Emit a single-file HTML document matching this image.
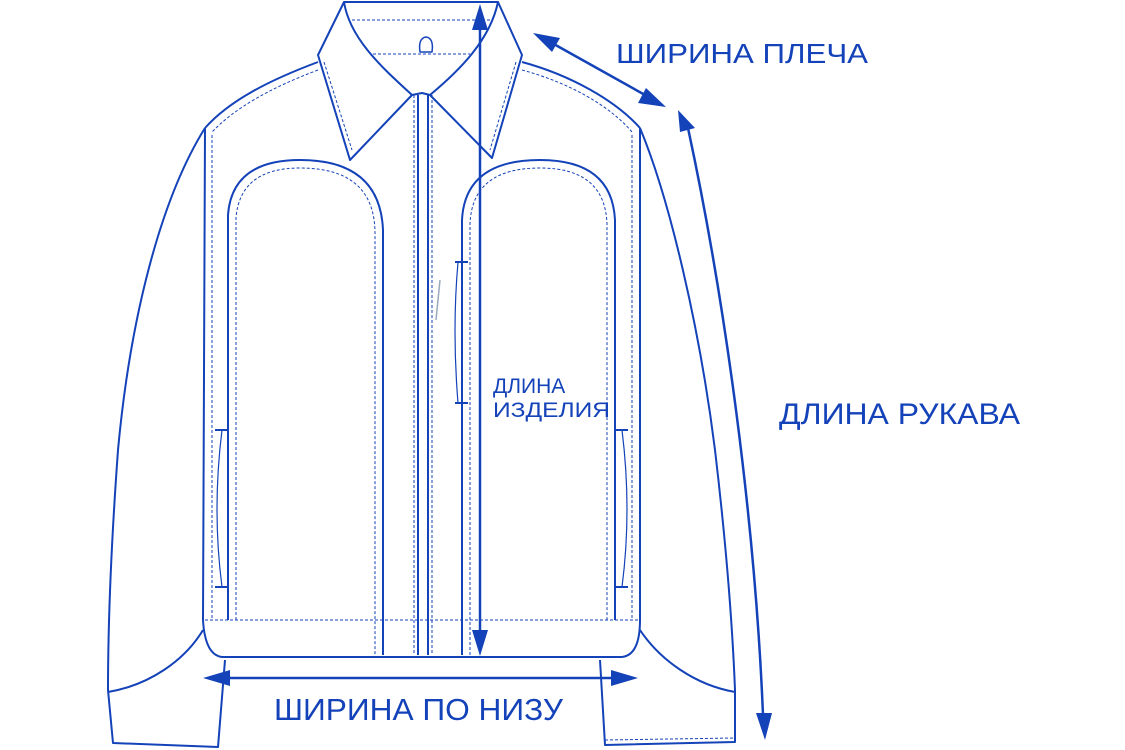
<!DOCTYPE html>
<html><head><meta charset="utf-8"><style>
html,body{margin:0;padding:0;background:#fff;}
svg{display:block;}
text{font-family:"Liberation Sans",sans-serif;fill:#1442b8;}
</style></head><body>
<svg width="1125" height="750" viewBox="0 0 1125 750" xmlns="http://www.w3.org/2000/svg">
<g fill="none" stroke="#1442b8" stroke-width="2" stroke-linejoin="round">
<!-- sleeves -->
<path d="M205,128 C160,200 130,320 118,450 C110,560 108,640 108,690 L113,743 L218,747 L225,660"/>
<path d="M640,128 C670,200 700,330 715,450 C728,560 733,640 735,690 L735,742 L605,745 L600,660"/>
<path d="M605,740 L735,738" stroke-width="1" stroke-dasharray="3 2"/>
<!-- body sides/hem -->
<path d="M205,128 L203,620 Q205,655 222,657 L622,657 Q640,655 640,620 L640,128"/>
<!-- sleeve seam curves -->
<path d="M203,630 C185,660 150,685 108,692"/>
<path d="M640,630 C660,660 695,685 735,692"/>
<!-- shoulders -->
<path d="M318,62 C270,80 230,100 205,128"/>
<path d="M522,62 C570,75 615,100 640,128"/>
<path d="M318,70 C270,88 235,108 212,132" stroke-width="1" stroke-dasharray="3 2"/>
<path d="M522,70 C570,83 610,106 632,132" stroke-width="1" stroke-dasharray="3 2"/>
<!-- collar -->
<path d="M344,2 L498,2 L522,55 L492,158 L430,95 L422,93 L412,95 L350,160 L318,55 Z"/>
<path d="M344,2 C350,40 385,70 412,95 M498,2 C490,40 460,70 430,95"/>
<path d="M352,20 L492,20 M373,54 L470,54" stroke-width="1" stroke-dasharray="3 2"/>
<path d="M420,52 Q418,38 426,37 Q434,38 432,52 Z" stroke-width="1.5"/>
<path d="M324,62 L352,150 M516,62 L490,150" stroke-width="1" stroke-dasharray="3 2"/>
<!-- zipper -->
<path d="M418,95 L418,655 M428,95 L428,655"/>
<path d="M414,95 L414,655 M432,95 L432,655" stroke-width="1" stroke-dasharray="3 2"/>
<!-- panels -->
<path d="M228,620 L228,215 Q232,160 300,160 Q380,160 383,230 L383,655"/>
<path d="M236,620 L236,218 Q240,168 300,168 Q374,168 375,232 L375,655" stroke-width="1" stroke-dasharray="3 2"/>
<path d="M462,655 L462,220 Q465,160 540,160 Q612,160 615,220 L615,620"/>
<path d="M470,655 L470,224 Q472,168 540,168 Q605,168 607,224 L607,620" stroke-width="1" stroke-dasharray="3 2"/>
<!-- side seams stitch -->
<path d="M212,135 L212,620 M632,135 L632,620" stroke-width="1" stroke-dasharray="3 2"/>
<path d="M205,620 L640,620" stroke-width="1" stroke-dasharray="3 2"/>
<!-- pocket marks -->
<path d="M215,430 L228,430 M215,587 L228,587 M615,430 L628,430 M615,587 L628,587 M455,262 L468,262 M455,403 L468,403" stroke-width="2"/>
<path d="M222,430 Q212,510 222,587 M622,430 Q632,510 622,587 M458,262 Q452,330 458,403" stroke-width="1.2"/>
<path d="M440,280 L436,320" stroke-width="1.5" stroke="#9ab"/>
</g>
<!-- measurement arrows -->
<g stroke="#1442b8" stroke-width="2.5" fill="none">
<line x1="480" y1="28" x2="480" y2="632"/>
<line x1="552" y1="43" x2="645" y2="95"/>
<path d="M688,128 C725,300 755,520 763,715"/>
<line x1="228" y1="678" x2="612" y2="678"/>
</g>
<g fill="#1442b8">
<polygon points="480,4 472,30 488,30"/>
<polygon points="480,656 472,630 488,630"/>
<polygon points="533,33 560,38 552,52"/>
<polygon points="666,107 638,103 646,88"/>
<polygon points="678,110 695,128 680,132"/>
<polygon points="765,740 756,713 772,713"/>
<polygon points="203,678 230,670 230,686"/>
<polygon points="638,678 611,670 611,686"/>
</g>
<text x="616" y="63" font-size="28" textLength="252" lengthAdjust="spacingAndGlyphs">ШИРИНА ПЛЕЧА</text>
<text x="779" y="424" font-size="30" textLength="241" lengthAdjust="spacingAndGlyphs">ДЛИНА РУКАВА</text>
<text x="493" y="393" font-size="21">ДЛИНА</text>
<text x="493" y="417" font-size="21" textLength="117" lengthAdjust="spacingAndGlyphs">ИЗДЕЛИЯ</text>
<text x="274" y="720" font-size="31" textLength="289" lengthAdjust="spacingAndGlyphs">ШИРИНА ПО НИЗУ</text>
</svg>
</body></html>
